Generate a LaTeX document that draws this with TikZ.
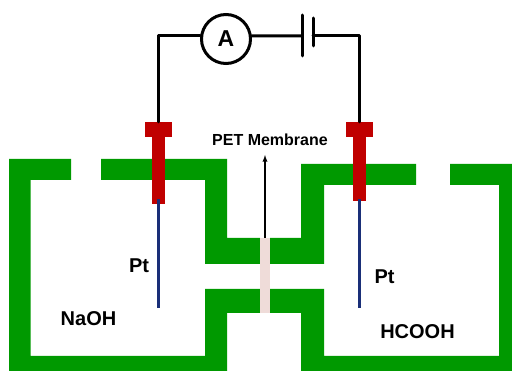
\documentclass[tikz,border=0pt]{standalone}
\usepackage{fontspec}
\setmainfont{Liberation Sans}
\usepackage{xcolor}
\usetikzlibrary{arrows,positioning}
\definecolor{wallgreen}{HTML}{009900}
\definecolor{leadred}{HTML}{C00000}
\definecolor{wireblue}{HTML}{1A2F78}
\definecolor{membranepink}{HTML}{EFDCD9}

\begin{document}
\begin{tikzpicture}[x=1pt, y=-1pt, wall/.style={fill=wallgreen, draw=none},
    leadcap/.style={fill=leadred, inner sep=0pt, minimum width=27pt, minimum height=15pt},
    leadstem/.style={fill=leadred, inner sep=0pt, minimum width=13.5pt},
    wire/.style={draw=black, line width=3pt, line cap=round, line join=round},
    chemlabel/.style={font=\bfseries\fontsize{20}{24}\selectfont, inner sep=0pt}]
\useasboundingbox (0,0) rectangle (512,371);

% cell walls
\fill[wall] (9,159) -- (71,159) -- (71,180) -- (30.5,180) -- (30.5,356) -- (205,356) -- (205,289) -- (260,289) -- (260,313) -- (227,313) -- (227,371) -- (9,371) -- cycle;
\fill[wall] (101,159) -- (227,159) -- (227,238) -- (260,238) -- (260,264) -- (205,264) -- (205,180) -- (101,180) -- cycle;
\fill[wall] (450,164) -- (512,164) -- (512,371) -- (301,371) -- (301,313) -- (270,313) -- (270,289) -- (324,289) -- (324,356) -- (499,356) -- (499,185) -- (450,185) -- cycle;
\fill[wall] (301,164) -- (416,164) -- (416,185) -- (324,185) -- (324,264) -- (270,264) -- (270,238) -- (301,238) -- cycle;

\node (membrane) at (265,275.5) [fill=membranepink, inner sep=0pt, minimum width=10.5pt, minimum height=75pt] {};

% electrodes
\node (capleft) at (158.5,129.5) [leadcap] {};
\node (stemleft) at (158.5,170.5) [leadstem, minimum height=67pt] {};
\node (capright) at (359.5,129.5) [leadcap] {};
\node (stemright) at (359.5,169) [leadstem, minimum height=64pt] {};
\coordinate (ptleft) at (158.5,308);
\coordinate (ptright) at (359.5,308);
\draw[wireblue, line width=3.5pt] (stemleft.south)+(0,-5) -- (ptleft);
\draw[wireblue, line width=3.5pt] (stemright.south)+(0,-2) -- (ptright);

% circuit
\coordinate (batleft) at (302,36);
\coordinate (batright) at (313,36);
\node (ammeter) at (226,39) [circle, draw, line width=3pt, fill=white, inner sep=0pt, minimum size=49pt, font=\bfseries\fontsize{23}{26}\selectfont] {A};
\draw[wire] (capleft.north) |- (ammeter.173);
\draw[wire] (ammeter.7) -- (batleft);
\draw[wire] (batright) -| (capright.north);
\draw[wire] (302,15) -- (302,56);
\draw[wire] (313,18) -- (313,46);

% labels
\node (pet) at (270,140) [font=\bfseries\fontsize{16}{19}\selectfont, inner sep=0pt] {PET Membrane};
\coordinate (pettip) at (265,155);
\draw[-latex, line width=1.3pt] (membrane.north) -- (pettip);
\node (ptlabelleft) at (139,266) [chemlabel] {Pt};
\node (ptlabelright) at (384.5,277) [chemlabel] {Pt};
\node (naoh) at (88.5,319) [chemlabel] {NaOH};
\node (hcooh) at (417.5,332) [chemlabel] {HCOOH};
\end{tikzpicture}
\end{document}
